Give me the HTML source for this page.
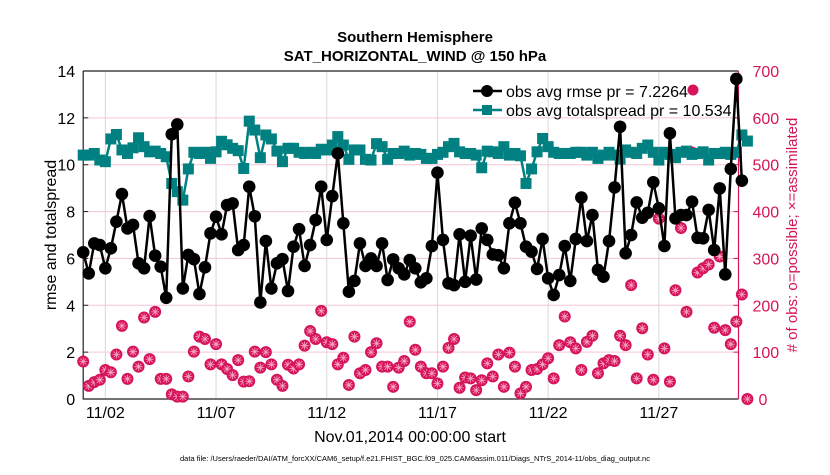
<!DOCTYPE html>
<html><head><meta charset="utf-8"><style>
body{margin:0;background:#fff;}
svg text{font-family:"Liberation Sans",Arial,sans-serif;}
</style></head><body>
<svg id="chart" width="830" height="470" viewBox="0 0 830 470" xmlns="http://www.w3.org/2000/svg">
<rect width="830" height="470" fill="#fff"/>
<text x="415" y="42" text-anchor="middle" font-size="15" font-weight="bold">Southern Hemisphere</text>
<text x="415" y="61" text-anchor="middle" font-size="15" font-weight="bold">SAT_HORIZONTAL_WIND @ 150 hPa</text>
<g id="grid"></g>
<g id="axes"></g>
<g id="series"></g>
<text transform="translate(56,235) rotate(-90)" text-anchor="middle" font-size="16">rmse and totalspread</text>
<text transform="translate(797,235) rotate(-90)" text-anchor="middle" font-size="15" fill="#d6145a"># of obs: o=possible; ×=assimilated</text>
<text x="410" y="442" text-anchor="middle" font-size="16">Nov.01,2014 00:00:00 start</text>
<text x="415" y="461" text-anchor="middle" font-size="7.5">data file: /Users/raeder/DAI/ATM_forcXX/CAM6_setup/f.e21.FHIST_BGC.f09_025.CAM6assim.011/Diags_NTrS_2014-11/obs_diag_output.nc</text>
<g>
<line x1="473" y1="91" x2="502" y2="91" stroke="#000" stroke-width="2.5"/>
<circle cx="487" cy="91" r="6" fill="#000"/>
<text x="506" y="97" font-size="16">obs avg rmse pr = 7.2264</text>
<line x1="473" y1="110" x2="502" y2="110" stroke="#008080" stroke-width="2.5"/>
<rect x="482" y="105" width="10" height="10" fill="#008080"/>
<text x="506" y="116" font-size="16">obs avg totalspread pr = 10.534</text>
<circle cx="693" cy="90" r="5.5" fill="#d6145a"/>
</g>
</svg>
<script>
const yTicks=[0,2,4,6,8,10,12,14];
const y2Ticks=[0,100,200,300,400,500,600,700];
const xTickDays=[1,6,11,16,21,26];
const xTickLabels=["11/02","11/07","11/12","11/17","11/22","11/27"];
const rmse=[6.26,5.36,6.64,6.57,5.58,6.43,7.57,8.75,7.28,7.43,5.79,5.58,7.81,6.12,5.65,4.32,11.3,11.72,4.72,6.15,5.97,4.48,5.62,7.07,7.78,7.03,8.28,8.35,6.36,6.57,9.06,7.8,4.12,6.74,4.72,5.79,5.97,4.61,6.5,7.25,5.68,6.57,7.64,9.06,6.79,8.66,10.48,7.5,4.58,5.04,6.64,5.68,6.0,5.68,6.64,5.08,5.96,5.58,5.32,5.93,5.58,4.98,5.15,6.53,9.66,6.79,4.94,4.86,7.03,5.0,6.97,5.1,7.28,6.79,6.17,6.14,5.58,7.5,8.38,7.5,6.5,6.29,5.55,6.83,5.15,4.44,5.29,6.53,5.04,6.83,8.6,6.74,7.85,5.51,5.22,6.74,9.03,11.62,6.22,7.0,8.39,7.74,7.95,9.25,8.14,6.53,11.34,7.71,7.85,7.85,8.42,6.88,6.86,8.07,6.36,8.99,5.32,9.82,13.66,9.32];
const spread=[10.41,10.41,10.48,10.2,10.13,11.1,11.29,10.63,10.48,10.72,11.15,10.77,10.55,10.58,10.48,10.34,9.2,8.85,8.49,9.82,10.53,10.48,10.53,10.27,10.55,11.0,10.85,10.7,10.6,9.84,11.86,11.48,10.3,11.27,11.1,10.58,10.13,10.7,10.7,10.53,10.48,10.53,10.48,10.66,10.63,10.84,11.2,10.84,10.23,10.63,10.63,10.23,10.2,10.9,10.77,10.23,10.48,10.48,10.58,10.41,10.48,10.44,10.27,10.27,10.44,10.53,10.77,10.91,10.55,10.48,10.48,10.41,9.87,10.58,10.55,10.48,10.77,10.41,10.48,10.38,9.2,9.82,10.55,11.12,10.77,10.53,10.48,10.48,10.48,10.53,10.53,10.41,10.53,10.27,10.41,10.53,10.41,10.24,10.63,10.53,10.48,10.7,10.84,10.53,10.2,10.53,10.44,10.3,10.53,10.58,10.44,10.48,10.55,10.2,10.48,10.48,10.53,10.44,10.53,11.27,11.01];
const nobs=[80,28,36,41,62,57,95,156,43,101,69,174,85,186,43,43,10,5,5,48,101,133,128,74,117,74,64,51,83,37,38,101,67,100,74,41,28,73,65,74,114,145,128,188,121,117,74,88,30,133,55,62,100,119,69,69,26,67,81,165,105,69,55,55,33,69,109,128,24,46,44,19,40,76,48,95,26,99,69,12,26,62,64,74,87,44,115,176,121,108,62,122,135,55,76,83,81,135,115,243,44,151,95,41,385,108,37,232,365,186,526,270,279,287,152,304,147,117,165,223,0];
const X0=83.2,PXD=22.14,Y0=399,YTOP=71,XR=738.5;
const NS="http://www.w3.org/2000/svg";
function xs(t){return X0+t*PXD;}
function ys(v){return Y0-v*(Y0-YTOP)/14;}
function y2s(v){return Y0-v*(Y0-YTOP)/700;}
function mk(tag,attrs,parent){const e=document.createElementNS(NS,tag);for(const k in attrs)e.setAttribute(k,attrs[k]);parent.appendChild(e);return e;}
const grid=document.getElementById('grid'),axes=document.getElementById('axes'),ser=document.getElementById('series');
yTicks.forEach(v=>{
 const l=mk('line',{x1:X0,x2:XR,y1:ys(v),y2:ys(v),stroke:'#f3c6d6','stroke-width':1},grid);
 
 
 const t=mk('text',{x:X0-8,y:ys(v)+6,'text-anchor':'end','font-size':16},axes);
 t.textContent=v;
 
 
 mk('line',{x1:X0,x2:X0+5,y1:ys(v),y2:ys(v),stroke:'#222'},axes);
});
y2Ticks.forEach(v=>{
 const t=mk('text',{x:v===0?XR+20:XR+14,y:y2s(v)+6,'font-size':16,fill:'#d6145a'},axes);
 t.textContent=v;
 
 
 mk('line',{x1:XR-5,x2:XR,y1:y2s(v),y2:y2s(v),stroke:'#d6145a'},axes);
});
xTickDays.forEach((d,i)=>{
 const l=mk('line',{x1:xs(d),x2:xs(d),y1:YTOP,y2:Y0,stroke:'#d8d8d8','stroke-width':1},grid);
 
 
 const t=mk('text',{x:xs(d),y:Y0+19,'text-anchor':'middle','font-size':16},axes);
 t.textContent=xTickLabels[i];
 
 
});
mk('path',{d:`M${X0},${YTOP}V${Y0}H${XR}`,fill:'none',stroke:'#222','stroke-width':1.2},axes);
mk('line',{x1:X0,x2:XR,y1:YTOP,y2:YTOP,stroke:'#222','stroke-width':1.2},axes);
mk('line',{x1:XR,x2:XR,y1:YTOP,y2:Y0,stroke:'#d6145a','stroke-width':1.2},axes);
nobs.forEach((v,i)=>{
 const g=mk('g',{},ser);
 
 
 const cx=xs(i*0.25),cy=y2s(v);
 mk('circle',{cx:cx,cy:cy,r:6,fill:'#d6145a'},g);
 mk('path',{d:`M${cx-4},${cy}H${cx+4}M${cx},${cy-4}V${cy+4}M${cx-3},${cy-3}L${cx+3},${cy+3}M${cx-3},${cy+3}L${cx+3},${cy-3}`,stroke:'#f7a8c4','stroke-width':0.8},g);
});
let d='';spread.forEach((v,i)=>{d+=(i?'L':'M')+xs(i*0.25)+','+ys(v);});
const sp=mk('path',{d:d,fill:'none',stroke:'#008080','stroke-width':2.5},ser);


spread.forEach((v,i)=>{
 const r=mk('rect',{x:xs(i*0.25)-5.5,y:ys(v)-5.5,width:11,height:11,fill:'#008080'},ser);
 
 
});
d='';rmse.forEach((v,i)=>{d+=(i?'L':'M')+xs(i*0.25)+','+ys(v);});
const rl=mk('path',{d:d,fill:'none',stroke:'#000','stroke-width':2.5},ser);


rmse.forEach((v,i)=>{
 const c=mk('circle',{cx:xs(i*0.25),cy:ys(v),r:6.3,fill:'#000'},ser);
 
 
});
</script>
</body></html>
